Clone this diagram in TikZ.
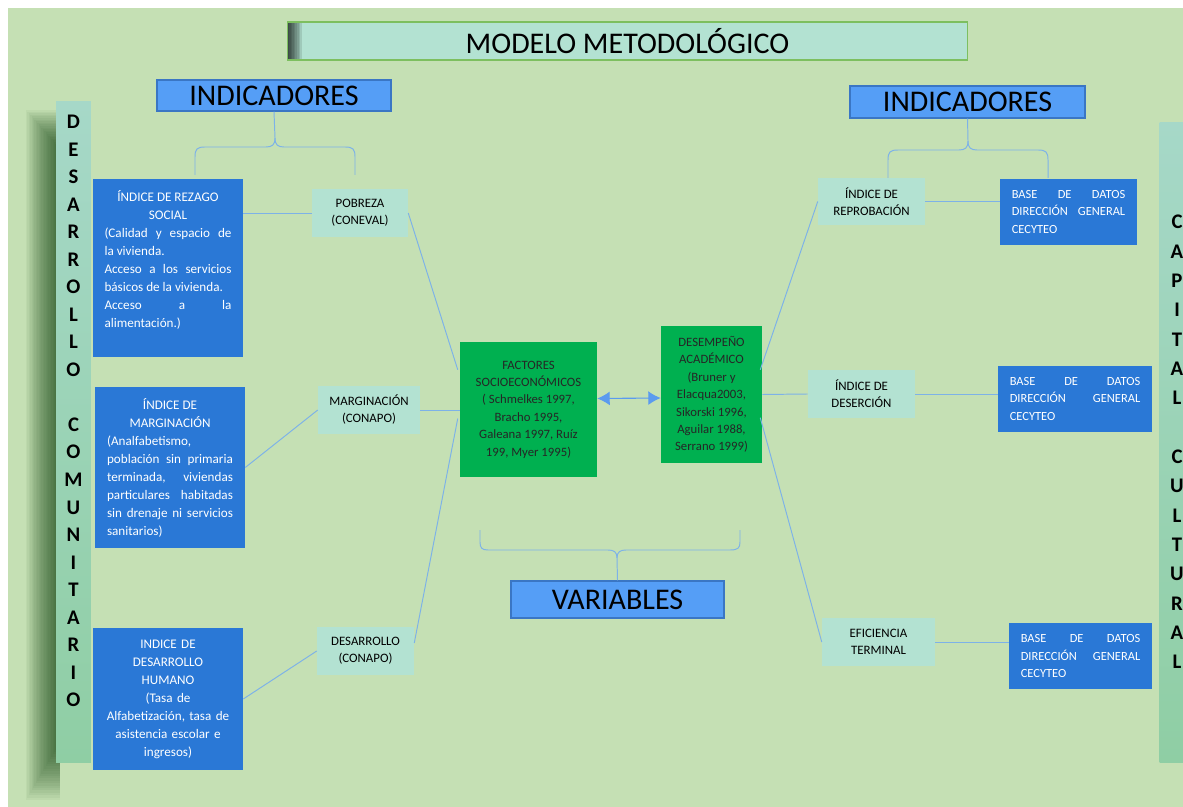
\documentclass[tikz,border=0pt]{standalone}
\usepackage{fontspec}
\setmainfont{Carlito}
\usetikzlibrary{calc,arrows.meta}

\definecolor{fondo}{HTML}{C5E0B4}
\definecolor{turq}{HTML}{B3E2D2}
\definecolor{azulosc}{HTML}{2A78D6}
\definecolor{azulcl}{HTML}{559EF6}
\definecolor{azulbor}{HTML}{3A76C4}
\definecolor{verde}{HTML}{00B050}
\definecolor{linea}{HTML}{7DB2E8}
\definecolor{flecha}{HTML}{5B9BEF}
\definecolor{barraA}{HTML}{A6D8C8}
\definecolor{barraB}{HTML}{8FCEA4}
\definecolor{ttlbor}{HTML}{7DBF5F}

% encabezado centrado dentro de una caja justificada
\newcommand{\cab}[1]{{\centering #1\par}}

\tikzset{
  titulo/.style={draw=azulbor, fill=azulcl, line width=0.9pt, inner sep=0pt,
    font=\fontsize{21.7}{24}\selectfont},
  cajaazul/.style={fill=azulosc, text=white, inner ysep=0pt, align=justify,
    font=\fontsize{9.5}{13}\selectfont},
  cajabase/.style={cajaazul, font=\fontsize{9}{12.3}\selectfont, inner xsep=8.5pt},
  cajaturq/.style={fill=turq, inner sep=0pt, align=center,
    font=\fontsize{9.3}{12.3}\selectfont},
  cajaverde/.style={fill=verde, text=black!85, inner sep=0pt, align=center,
    font=\fontsize{9.2}{12.6}\selectfont},
  barra/.style={top color=barraA, bottom color=barraB, inner sep=0pt},
  letras/.style={align=center, inner sep=0pt},
  conector/.style={draw=linea, line width=0.7pt},
  llave/.style={draw=linea, line width=0.7pt},
}

\begin{document}
\begin{tikzpicture}[x=0.0254cm,y=-0.0254cm]
\useasboundingbox (0,0) rectangle (1183,807);
\fill[fondo] (8,8) rectangle (1183,807);

% sombra de la barra izquierda
\foreach \k in {0,...,21}
  \fill[black!80!green,opacity=0.04] (26+\k*1.4,110+\k*1.6) rectangle (60,800-\k*2.4);

% barras laterales
\node[barra, minimum width=35*0.7227pt, minimum height=662*0.7227pt] (barIzq) at (73.5,432) {};
\node[letras, font=\bfseries\fontsize{15}{19.9}\selectfont] (txtIzq) at (73.5,411)
  {D\\E\\S\\A\\R\\R\\O\\L\\L\\O\\[19.9pt]C\\O\\M\\U\\N\\I\\T\\A\\R\\I\\O};
\node[barra, minimum width=35*0.7227pt, minimum height=641*0.7227pt] (barDer) at (1177,442.5) {};
\node[letras, font=\bfseries\fontsize{15}{21.2}\selectfont] (txtDer) at (1177,442)
  {C\\A\\P\\I\\T\\A\\L\\[21.2pt]C\\U\\L\\T\\U\\R\\A\\L};

% titulo principal
\node[fill=turq, draw=ttlbor, line width=0.8pt, inner sep=0pt,
  minimum width=681*0.7227pt, minimum height=38*0.7227pt,
  font=\fontsize{21.7}{24}\selectfont,
  path picture={\foreach \k in {0,...,8}
    \fill[black,opacity=0.11] (path picture bounding box.north west)
      rectangle ($(path picture bounding box.south west)+(2+\k*1.6,0)$);}]
  (modelo) at (627.5,41) {MODELO METODOLÓGICO};

\node[titulo, minimum width=234*0.7227pt, minimum height=31*0.7227pt] (indIzq) at (274,95.5) {INDICADORES};
\node[titulo, minimum width=235*0.7227pt, minimum height=32*0.7227pt] (indDer) at (967.5,102) {INDICADORES};
\node[titulo, minimum width=213*0.7227pt, minimum height=37*0.7227pt] (variab) at (617.5,599.5) {VARIABLES};

% llaves
\draw[llave] (195,175) -- (195,157) .. controls (195,149) and (197,147) .. (205,147) -- (266,147)
  .. controls (272,147) and (275,145) .. (275,138) -- (indIzq.south);
\draw[llave] (355,175) -- (355,157) .. controls (355,149) and (353,147) .. (345,147) -- (284,147)
  .. controls (278,147) and (275,145) .. (275,138);
\draw[llave] (888,178) -- (888,160) .. controls (888,152) and (890,150) .. (898,150) -- (959,150)
  .. controls (965,150) and (968,148) .. (968,141) -- (indDer.south);
\draw[llave] (1048,178) -- (1048,160) .. controls (1048,152) and (1046,150) .. (1038,150) -- (977,150)
  .. controls (971,150) and (968,148) .. (968,141);
\draw[llave] (480,530) -- (480,542) .. controls (480,548) and (482,550) .. (488,550) -- (608,550)
  .. controls (614,550) and (617,552) .. (617,558) -- (variab.north);
\draw[llave] (740,530) -- (740,542) .. controls (740,548) and (738,550) .. (730,550) -- (626,550)
  .. controls (620,550) and (617,552) .. (617,558);

% indices del lado izquierdo
\node[cajaazul, text width=91.8pt, inner xsep=8.3pt, minimum height=178*0.7227pt] (rezago) at (168,268)
  {\cab{ÍNDICE DE REZAGO\\SOCIAL}
   (Calidad y espacio de\linebreak la vivienda.\par
   Acceso a los servicios\linebreak básicos de la vivienda.\par
   Acceso a la\linebreak alimentación.)\par\vspace{12pt}};
\node[cajaazul, text width=91pt, inner xsep=8.7pt, minimum height=161*0.7227pt] (margi) at (170,467.5)
  {\cab{ÍNDICE DE\\MARGINACIÓN}
   (Analfabetismo,\\
   población sin primaria\linebreak terminada, viviendas\linebreak particulares habitadas\linebreak
   sin drenaje ni servicios\linebreak sanitarios)};
\node[cajaazul, align=center, text width=94pt, inner xsep=7.2pt, minimum height=142*0.7227pt] (dhum) at (168,699)
  {INDICE DE\\DESARROLLO\\HUMANO\\(Tasa de\\Alfabetización, tasa de\\asistencia escolar e\\ingresos)};

\node[cajaturq, minimum width=96*0.7227pt, minimum height=48*0.7227pt] (pob) at (360,213) {POBREZA\\(CONEVAL)};
\node[cajaturq, minimum width=102*0.7227pt, minimum height=48*0.7227pt] (marco) at (369,410) {MARGINACIÓN\\(CONAPO)};
\node[cajaturq, minimum width=97*0.7227pt, minimum height=48*0.7227pt] (desco) at (365.5,651) {DESARROLLO\\(CONAPO)};

% variables
\node[cajaverde, minimum width=137*0.7227pt, minimum height=135*0.7227pt] (fac) at (528.5,409.5)
  {FACTORES\\SOCIOECONÓMICOS\\( Schmelkes 1997,\\Bracho 1995,\\Galeana 1997, Ruíz\\199, Myer 1995)};
\node[cajaverde, minimum width=101*0.7227pt, minimum height=137*0.7227pt] (dsmp) at (711.5,394.5)
  {DESEMPEÑO\\ACADÉMICO\\(Bruner y\\Elacqua2003,\\Sikorski 1996,\\Aguilar 1988,\\Serrano 1999)};

% indices del lado derecho
\node[cajaturq, minimum width=107*0.7227pt, minimum height=47*0.7227pt] (repro) at (871.5,201.5) {ÍNDICE DE\\REPROBACIÓN};
\node[cajaturq, minimum width=107*0.7227pt, minimum height=48*0.7227pt] (deser) at (861.5,394) {ÍNDICE DE\\DESERCIÓN};
\node[cajaturq, minimum width=113*0.7227pt, minimum height=48*0.7227pt] (efic) at (878.5,642) {EFICIENCIA\\TERMINAL};

\node[cajabase, text width=137*0.7227pt-17pt, minimum height=66*0.7227pt] (base1) at (1068.5,212)
  {BASE DE DATOS\linebreak DIRECCIÓN GENERAL\linebreak CECYTEO};
\node[cajabase, text width=154*0.7227pt-17pt, minimum height=66*0.7227pt] (base2) at (1075,399)
  {BASE DE DATOS\linebreak DIRECCIÓN GENERAL\linebreak CECYTEO};
\node[cajabase, text width=143*0.7227pt-17pt, minimum height=66*0.7227pt] (base3) at (1080.5,656)
  {BASE DE DATOS\linebreak DIRECCIÓN GENERAL\linebreak CECYTEO};

% conectores
\draw[conector] (rezago.east |- pob.west) -- (pob.west);
\draw[conector] (pob.east) -- ($(fac.north west)+(-2,28)$);
\draw[conector] (margi.east) -- (marco.west);
\draw[conector] (marco.east) -- (fac.west |- marco.east);
\draw[conector] (dhum.east) -- (desco.west);
\draw[conector] ($(desco.east)+(0,-8)$) -- ($(fac.west)+(-2,9)$);
\draw[flecha, line width=0.8pt, {Latex[length=9pt,width=10pt]}-{Latex[length=9pt,width=10pt]}]
  ($(fac.east)+(0,-11)$) -- ($(dsmp.west)+(0,3.5)$);
\draw[conector] ($(dsmp.north east)+(-2,44)$) -- (repro.west);
\draw[conector] (dsmp.east) -- (deser.west);
\draw[conector] ($(dsmp.north east)+(-2,92)$) -- (efic.west);
\draw[conector] (repro.east) -- (base1.west |- repro.east);
\draw[conector] (deser.east) -- (base2.west |- deser.east);
\draw[conector] (efic.east) -- (base3.west |- efic.east);
\end{tikzpicture}
\end{document}
